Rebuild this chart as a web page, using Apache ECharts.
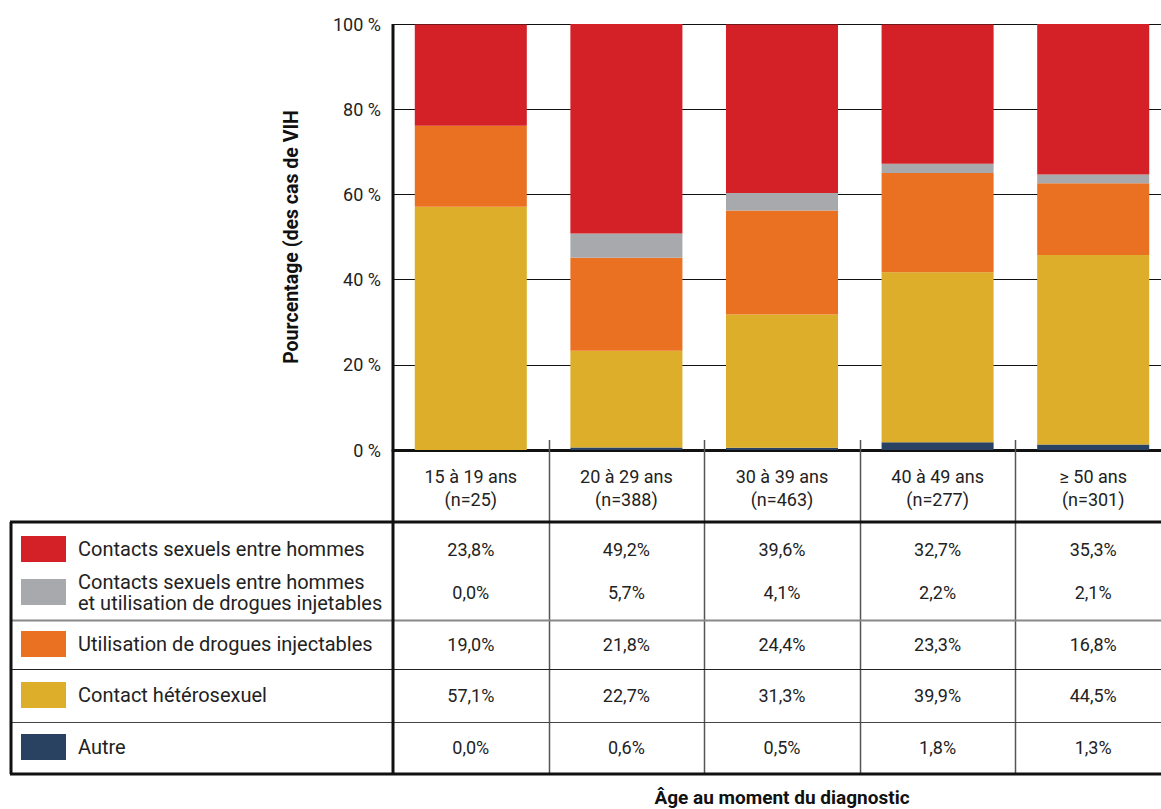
<!DOCTYPE html>
<html lang="fr">
<head>
<meta charset="utf-8">
<title>Cas de VIH selon l'âge au moment du diagnostic</title>
<script src="https://cdn.jsdelivr.net/npm/echarts@6/dist/echarts.min.js"></script>
<style>
  html, body { margin: 0; padding: 0; background: #fff; }
  #chart { width: 1161px; height: 809px; }
</style>
</head>
<body>
<div id="chart"></div>
<script>
// Age groups and number of cases
const categories = ['15 à 19 ans', '20 à 29 ans', '30 à 39 ans', '40 à 49 ans', '≥ 50 ans'];
const sampleSizes = [25, 388, 463, 277, 301];

// Exposure category shares (%) per age group
const msm    = [23.8, 49.2, 39.6, 32.7, 35.3]; // Contacts sexuels entre hommes
const msmIdu = [0.0, 5.7, 4.1, 2.2, 2.1];      // HARSAH + drogues injectables
const idu    = [19.0, 21.8, 24.4, 23.3, 16.8]; // Utilisation de drogues injectables
const hetero = [57.1, 22.7, 31.3, 39.9, 44.5]; // Contact hétérosexuel
const other  = [0.0, 0.6, 0.5, 1.8, 1.3];      // Autre

const yTicks = [0, 20, 40, 60, 80, 100];

const FONT = 'Roboto';

// Table rows, top to bottom (legend label, colour, values)
const rows = [
  { name: 'Contacts sexuels entre hommes', color: '#D42027', data: msm },
  { name: 'Contacts sexuels entre hommes\net utilisation de drogues injetables', color: '#A7A9AC', data: msmIdu },
  { name: 'Utilisation de drogues injectables', color: '#EB7122', data: idu },
  { name: 'Contact hétérosexuel', color: '#DCAE29', data: hetero },
  { name: 'Autre', color: '#2A4262', data: other }
];

const chart = echarts.init(document.getElementById('chart'), null, { renderer: 'svg' });

// Stack from the bottom: Autre first, MSM last
const stackOrder = rows.slice().reverse();

const option = {
  backgroundColor: '#fff',
  animation: false,
  grid: { left: 393, top: 24, width: 778, height: 426, containLabel: false, outerBoundsMode: 'none' },
  xAxis: {
    type: 'category',
    data: categories.map((c, i) => c + '\n(n=' + sampleSizes[i] + ')'),
    axisLine: { show: true, lineStyle: { color: '#111', width: 3 } },
    axisTick: { show: false },
    axisLabel: { fontFamily: FONT, fontSize: 18, color: '#222', lineHeight: 23, margin: 15 }
  },
  yAxis: {
    type: 'value',
    min: yTicks[0],
    max: yTicks[yTicks.length - 1],
    interval: 20,
    axisLine: { show: false },
    axisTick: { show: false },
    splitLine: { show: true, lineStyle: { color: '#111', width: 1 } },
    axisLabel: { fontFamily: FONT, fontSize: 18, color: '#222', margin: 12, formatter: '{value} %' },
    name: 'Pourcentage (des cas de VIH',
    nameLocation: 'middle',
    nameRotate: 90,
    nameGap: 92,
    nameTextStyle: { fontFamily: FONT, fontSize: 19.5, fontWeight: 'bold', color: '#111' }
  },
  series: stackOrder.map(r => ({
    name: r.name,
    type: 'bar',
    stack: 'total',
    barCategoryGap: '28%',
    data: r.data,
    itemStyle: { color: r.color },
    emphasis: { disabled: true }
  }))
};

chart.setOption(option);

// Data table under the plot, aligned on the category bands
function drawTable() {
  const xs = categories.map((_, i) => chart.convertToPixel({ xAxisIndex: 0 }, i));
  const band = xs.length > 1 ? xs[1] - xs[0] : 155;
  const axisY = chart.convertToPixel({ yAxisIndex: 0 }, 0);
  const leftX = 10;
  const axisX = 393;
  const rightX = 1161;
  const headerBottom = 522;
  const tableBottom = 774;
  // row centres and separators
  const rowCentres = [549, 592, 644, 695, 747];
  const separators = [
    { y: 620, color: '#888', width: 2 },
    { y: 669, color: '#222', width: 1 },
    { y: 722, color: '#444', width: 1 }
  ];

  const g = [];

  // column dividers
  for (let i = 1; i < xs.length; i++) {
    const x = Math.round(xs[i] - band / 2) + 0.5;
    g.push({ type: 'line', shape: { x1: x, y1: axisY - 10, x2: x, y2: tableBottom }, style: { stroke: '#555', lineWidth: 1.5 }, z: 10 });
  }

  // horizontal separators
  separators.forEach(s => {
    g.push({ type: 'line', shape: { x1: leftX, y1: s.y + 0.5, x2: rightX, y2: s.y + 0.5 }, style: { stroke: s.color, lineWidth: s.width }, z: 10 });
  });

  // heavy frame lines
  g.push({ type: 'line', shape: { x1: leftX, y1: headerBottom, x2: rightX, y2: headerBottom }, style: { stroke: '#111', lineWidth: 3 }, z: 11 });
  g.push({ type: 'line', shape: { x1: leftX, y1: tableBottom, x2: rightX, y2: tableBottom }, style: { stroke: '#111', lineWidth: 3 }, z: 11 });
  g.push({ type: 'line', shape: { x1: leftX + 1, y1: headerBottom, x2: leftX + 1, y2: tableBottom }, style: { stroke: '#111', lineWidth: 3 }, z: 11 });
  g.push({ type: 'line', shape: { x1: axisX, y1: 24, x2: axisX, y2: tableBottom }, style: { stroke: '#111', lineWidth: 3 }, z: 11 });

  // legend swatches, labels and values
  rows.forEach((r, ri) => {
    const cy = rowCentres[ri];
    g.push({ type: 'rect', shape: { x: 21, y: cy - 13, width: 45, height: 26 }, style: { fill: r.color }, z: 10 });
    g.push({
      type: 'text', x: 78, y: cy,
      style: { text: r.name, fontFamily: FONT, fontSize: 20, fill: '#222', lineHeight: 21, verticalAlign: 'middle', align: 'left' },
      z: 10
    });
    r.data.forEach((v, ci) => {
      g.push({
        type: 'text', x: xs[ci], y: cy,
        style: { text: v.toFixed(1).replace('.', ',') + '%', fontFamily: FONT, fontSize: 18, fill: '#222', align: 'center', verticalAlign: 'middle' },
        z: 10
      });
    });
  });

  // horizontal axis title
  const midX = (xs[0] + xs[xs.length - 1]) / 2;
  g.push({
    type: 'text', x: midX, y: 797,
    style: { text: 'Âge au moment du diagnostic', fontFamily: FONT, fontSize: 19, fontWeight: 'bold', fill: '#111', align: 'center', verticalAlign: 'middle' },
    z: 10
  });

  chart.setOption({ graphic: { elements: g } });
}

drawTable();
</script>
</body>
</html>
